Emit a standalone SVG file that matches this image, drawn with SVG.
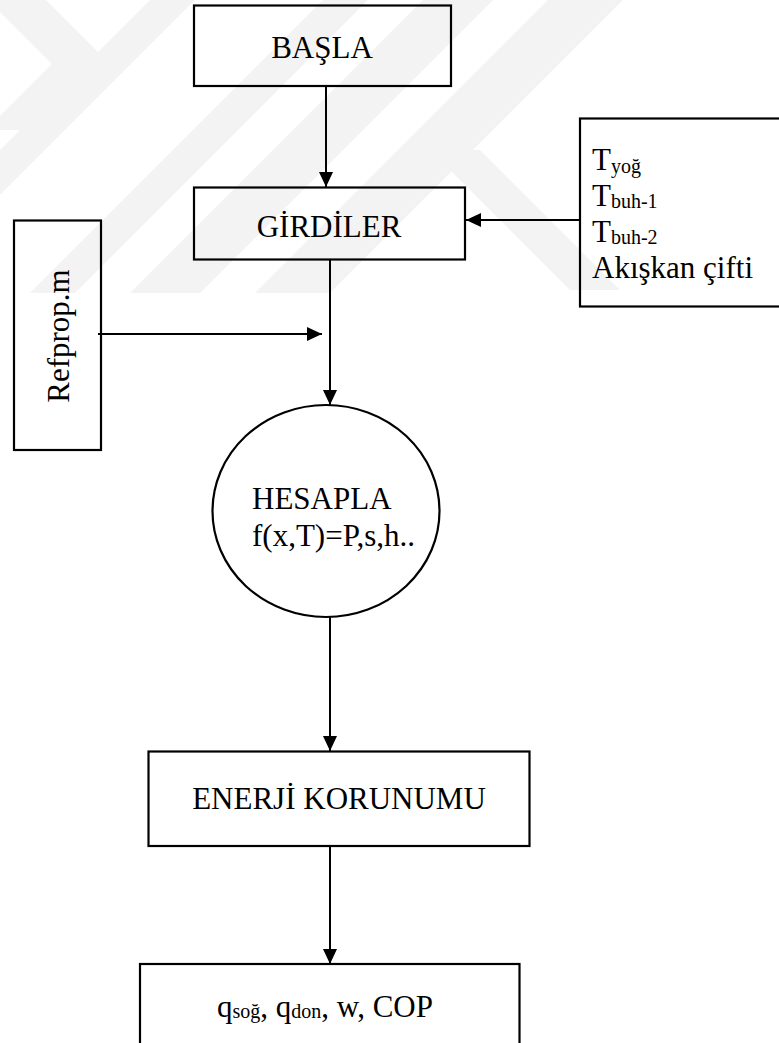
<svg xmlns="http://www.w3.org/2000/svg" width="779" height="1043" viewBox="0 0 779 1043">
<defs>
<style>
.box{fill:none;stroke:#000;stroke-width:2.2}
.ln{fill:none;stroke:#000;stroke-width:2}
.t{font-family:"Liberation Serif","Times New Roman",serif;font-size:31px;fill:#000}
.s{font-size:20px}
.wm{fill:#f3f3f3;stroke:none}
</style>
<marker id="ah" markerUnits="userSpaceOnUse" markerWidth="16" markerHeight="16" refX="15" refY="7" orient="auto">
<path d="M0,0 L15,7 L0,14 Z" fill="#000"/>
</marker>
</defs>
<rect width="779" height="1043" fill="#fff"/>
<g id="watermark">
<polygon class="wm" points="0,0 46,0 110,64 44,130 0,130 0,116 52,64 0,12"/>
<polygon class="wm" points="0,150 0,195 195,0 150,0"/>
<polygon class="wm" points="30,293 75,293 368,0 323,0"/>
<polygon class="wm" points="130,293 200,293 493,0 423,0"/>
<polygon class="wm" points="255,293 330,293 623,0 548,0"/>
<polygon class="wm" points="430,150 480,150 620,290 570,290"/>
</g>
<g id="connectors">
<line class="ln" x1="326" y1="86" x2="326" y2="187" marker-end="url(#ah)"/>
<line class="ln" x1="580" y1="220" x2="466" y2="220" marker-end="url(#ah)"/>
<line class="ln" x1="98" y1="334" x2="322" y2="334" marker-end="url(#ah)"/>
<line class="ln" x1="330" y1="260" x2="330" y2="405" marker-end="url(#ah)"/>
<line class="ln" x1="330" y1="617" x2="330" y2="751" marker-end="url(#ah)"/>
<line class="ln" x1="330" y1="846" x2="330" y2="964" marker-end="url(#ah)"/>
</g>
<g id="basla">
<rect class="box" x="194" y="5.5" width="257" height="80.5"/>
<text class="t" x="322" y="58" text-anchor="middle">BAŞLA</text>
</g>
<g id="girdiler">
<rect class="box" x="194" y="187.5" width="271" height="72"/>
<text class="t" x="329" y="237" text-anchor="middle">GİRDİLER</text>
</g>
<g id="inputs">
<rect class="box" x="580" y="118.5" width="210" height="188"/>
<text class="t" x="592" y="170">T<tspan class="s" dy="3">yoğ</tspan></text>
<text class="t" x="592" y="206">T<tspan class="s" dy="2">buh-1</tspan></text>
<text class="t" x="592" y="242">T<tspan class="s" dy="2">buh-2</tspan></text>
<text class="t" x="592" y="278">Akışkan çifti</text>
</g>
<g id="refprop">
<rect class="box" x="14" y="220.5" width="87" height="229.5"/>
<text class="t" transform="translate(69,336) rotate(-90)" text-anchor="middle">Refprop.m</text>
</g>
<g id="hesapla">
<ellipse class="box" cx="326" cy="511" rx="113.5" ry="106"/>
<text class="t" x="252" y="509">HESAPLA</text>
<text class="t" x="252" y="546">f(x,T)=P,s,h..</text>
</g>
<g id="enerji">
<rect class="box" x="148.5" y="751.5" width="381" height="94.5"/>
<text class="t" x="339" y="809" text-anchor="middle">ENERJİ KORUNUMU</text>
</g>
<g id="sonuc">
<rect class="box" x="140" y="964" width="379.5" height="100"/>
<text class="t" x="217" y="1017">q<tspan class="s" dy="1">soğ</tspan><tspan dy="-1">, q</tspan><tspan class="s" dy="1">don</tspan><tspan dy="-1">, w, COP</tspan></text>
</g>
</svg>
